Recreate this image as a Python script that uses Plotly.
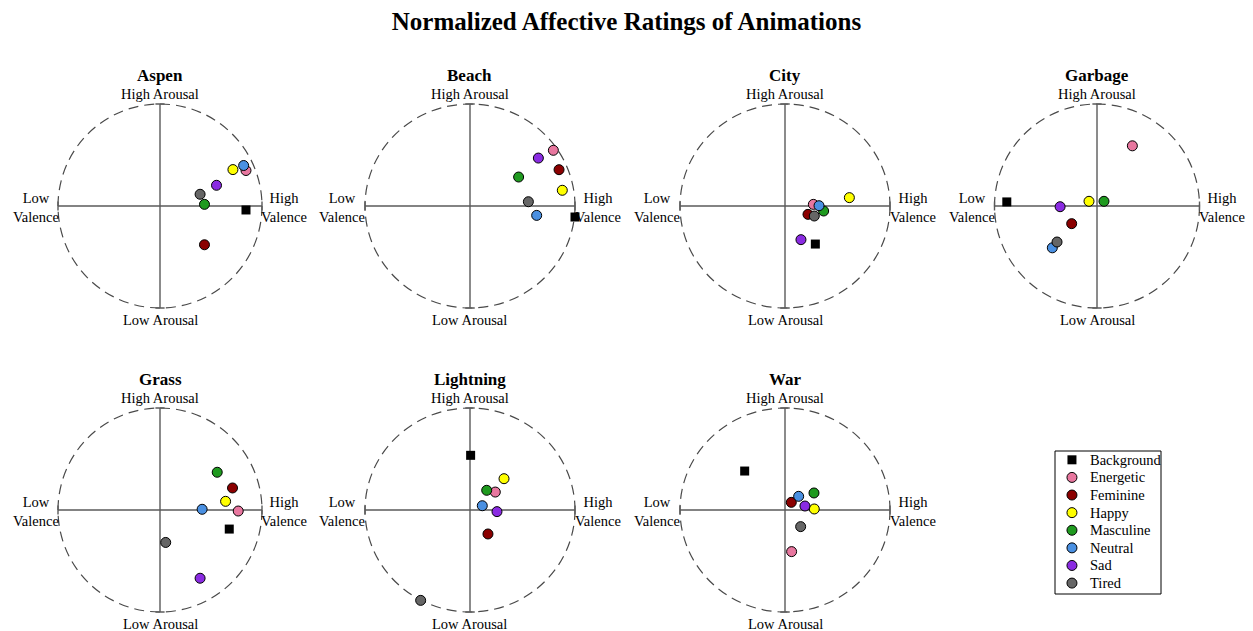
import plotly.graph_objects as go

# ---------------- data ----------------
animations = ["Aspen", "Beach", "City", "Garbage", "Grass", "Lightning", "War"]
categories = ["Background", "Energetic", "Feminine", "Happy", "Masculine", "Neutral", "Sad", "Tired"]
colors = ["#000000", "#E8779F", "#8B0000", "#FFFF00", "#1F9A1F", "#4A90E2", "#8A2BE2", "#666666"]

# values in category order: Background, Energetic, Feminine, Happy, Masculine, Neutral, Sad, Tired
aspen_valence = [0.843, 0.843, 0.436, 0.715, 0.436, 0.820, 0.554, 0.393]
aspen_arousal = [-0.039, 0.348, -0.380, 0.357, 0.016, 0.397, 0.203, 0.115]
beach_valence = [1.000, 0.794, 0.848, 0.879, 0.463, 0.635, 0.651, 0.556]
beach_arousal = [-0.108, 0.546, 0.356, 0.154, 0.284, -0.092, 0.470, 0.042]
city_valence = [0.289, 0.270, 0.219, 0.613, 0.368, 0.324, 0.152, 0.279]
city_arousal = [-0.373, 0.016, -0.082, 0.082, -0.049, 0.003, -0.330, -0.098]
garbage_valence = [-0.880, 0.345, -0.247, -0.078, 0.068, -0.436, -0.360, -0.390]
garbage_arousal = [0.040, 0.590, -0.173, 0.046, 0.046, -0.410, -0.007, -0.353]
grass_valence = [0.679, 0.767, 0.711, 0.643, 0.561, 0.413, 0.393, 0.056]
grass_arousal = [-0.187, -0.010, 0.216, 0.085, 0.370, 0.007, -0.669, -0.318]
lightning_valence = [0.006, 0.241, 0.171, 0.324, 0.159, 0.117, 0.257, -0.470]
lightning_arousal = [0.536, 0.176, -0.235, 0.307, 0.193, 0.042, -0.016, -0.886]
war_valence = [-0.384, 0.063, 0.060, 0.279, 0.276, 0.130, 0.190, 0.149]
war_arousal = [0.382, -0.408, 0.075, 0.010, 0.167, 0.134, 0.039, -0.163]

valence = [aspen_valence, beach_valence, city_valence, garbage_valence,
           grass_valence, lightning_valence, war_valence]
arousal = [aspen_arousal, beach_arousal, city_arousal, garbage_arousal,
           grass_arousal, lightning_arousal, war_arousal]

# ---------------- layout (pixels) ----------------
W, H = 1253, 631
centers_x = [160, 470, 785, 1097, 160, 470, 785]
centers_y = [206, 206, 206, 206, 510, 510, 510]
radius_x = [102, 105, 105, 102.5, 102, 105, 105]
RY = 102
XR = (-1.45, 1.45)
YR = (-1.18, 1.35)
FONT = "Liberation Serif"
AXIS_COLOR = "#5a5a5a"
LABEL_SIZE = 14.5

# legend box (pixels) and its internal layout
LEG_X0, LEG_X1, LEG_Y0, LEG_Y1 = 1055, 1161, 451, 594
LEG_YRANGE = [7.62, -0.5]
LEG_MARKER_X = 0.16
LEG_TEXT_X = 0.31

fig = go.Figure()
layout_axes = {}
shapes = []
annotations = []


def marker_style(j):
    is_bg = (j == 0)
    return dict(symbol="square" if is_bg else "circle",
                size=9 if is_bg else 10, color=colors[j],
                line=dict(color="black", width=0 if is_bg else 1))


for i, anim in enumerate(animations):
    n = i + 1
    xa = "x" if n == 1 else f"x{n}"
    ya = "y" if n == 1 else f"y{n}"
    cx, cy, rx = centers_x[i], centers_y[i], radius_x[i]
    x0 = (cx + XR[0] * rx) / W
    x1 = (cx + XR[1] * rx) / W
    y0 = 1 - (cy - YR[0] * RY) / H
    y1 = 1 - (cy - YR[1] * RY) / H
    layout_axes["xaxis" if n == 1 else f"xaxis{n}"] = dict(
        domain=[x0, x1], range=list(XR), visible=False, fixedrange=True, anchor=ya)
    layout_axes["yaxis" if n == 1 else f"yaxis{n}"] = dict(
        domain=[y0, y1], range=list(YR), visible=False, fixedrange=True, anchor=xa)

    # dashed unit circle
    shapes.append(dict(type="circle", xref=xa, yref=ya, x0=-1, x1=1, y0=-1, y1=1,
                       line=dict(color="#4a4a4a", width=1.2, dash="10px,6px"), layer="below"))
    # axes
    shapes.append(dict(type="line", xref=xa, yref=ya, x0=-1, x1=1, y0=0, y1=0,
                       line=dict(color=AXIS_COLOR, width=1.4), layer="below"))
    shapes.append(dict(type="line", xref=xa, yref=ya, x0=0, x1=0, y0=-1, y1=1,
                       line=dict(color=AXIS_COLOR, width=1.4), layer="below"))
    tk = 0.045
    for s in (-1, 1):
        shapes.append(dict(type="line", xref=xa, yref=ya, x0=s, x1=s, y0=-tk, y1=tk,
                           line=dict(color=AXIS_COLOR, width=1.4), layer="below"))
        shapes.append(dict(type="line", xref=xa, yref=ya, x0=-tk, x1=tk, y0=s, y1=s,
                           line=dict(color=AXIS_COLOR, width=1.4), layer="below"))

    # labels
    lab = dict(xref=xa, yref=ya, showarrow=False,
               font=dict(family=FONT, size=LABEL_SIZE, color="black"))
    annotations.append(dict(text=f"<b>{anim}</b>", x=0, y=1.28, xanchor="center", yanchor="middle",
                            xref=xa, yref=ya, showarrow=False,
                            font=dict(family=FONT, size=17, color="black")))
    annotations.append(dict(text="High Arousal", x=0, y=1.10, xanchor="center", yanchor="middle", **lab))
    annotations.append(dict(text="Low Arousal", x=0, y=-1.12, xanchor="center", yanchor="middle", **lab))
    annotations.append(dict(text="Low<br>Valence", x=-1.22, y=-0.01, xanchor="center", yanchor="middle", **lab))
    annotations.append(dict(text="High<br>Valence", x=1.22, y=-0.01, xanchor="center", yanchor="middle", **lab))

    # points
    for j, cat in enumerate(categories):
        fig.add_trace(go.Scatter(
            x=[valence[i][j]], y=[arousal[i][j]], mode="markers", name=cat,
            showlegend=False, xaxis=xa, yaxis=ya, cliponaxis=False,
            marker=marker_style(j),
        ))

# ---------------- legend (drawn on its own categorical axis) ----------------
layout_axes["xaxis8"] = dict(domain=[LEG_X0 / W, LEG_X1 / W], range=[0, 1],
                             visible=False, fixedrange=True, anchor="y8")
layout_axes["yaxis8"] = dict(domain=[1 - LEG_Y1 / H, 1 - LEG_Y0 / H], type="category",
                             categoryorder="array", categoryarray=categories,
                             range=LEG_YRANGE, visible=False, fixedrange=True, anchor="x8")
shapes.append(dict(type="rect", xref="x8 domain", yref="y8 domain", x0=0, x1=1, y0=0, y1=1,
                   line=dict(color="black", width=1), fillcolor="white", layer="below"))
for j, cat in enumerate(categories):
    fig.add_trace(go.Scatter(
        x=[LEG_MARKER_X], y=[cat], mode="markers", name=cat, showlegend=False,
        xaxis="x8", yaxis="y8", cliponaxis=False, marker=marker_style(j),
        hoverinfo="name",
    ))
    annotations.append(dict(text=cat, x=LEG_TEXT_X, y=j, xref="x8", yref="y8",
                            xanchor="left", yanchor="middle", showarrow=False,
                            font=dict(family=FONT, size=LABEL_SIZE, color="black")))

fig.update_layout(
    width=W, height=H, autosize=False,
    margin=dict(l=0, r=0, t=0, b=0),
    paper_bgcolor="white", plot_bgcolor="white",
    title=dict(text="<b>Normalized Affective Ratings of Animations</b>",
               x=0.5, xanchor="center", y=1 - 21 / H, yanchor="middle",
               font=dict(family=FONT, size=25, color="black")),
    shapes=shapes, annotations=annotations,
    showlegend=False,
    **layout_axes,
)

fig.write_html("out.html")
